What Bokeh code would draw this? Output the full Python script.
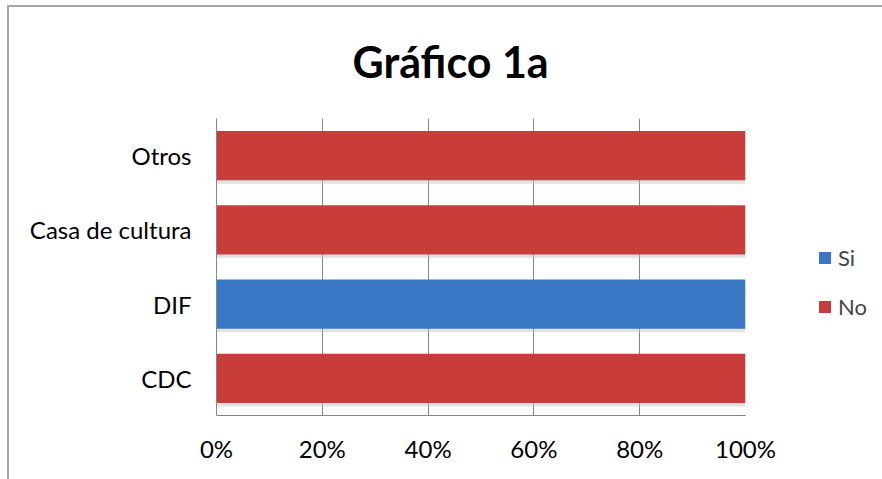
from bokeh.plotting import figure
from bokeh.models import ColumnDataSource, Legend, LegendItem, NumeralTickFormatter, FixedTicker, InlineStyleSheet, Range1d
from bokeh.transform import dodge
from bokeh.embed import file_html
from bokeh.resources import INLINE

categories = ["CDC", "DIF", "Casa de cultura", "Otros"]
si = [0.0, 1.0, 0.0, 0.0]
no = [1.0, 0.0, 1.0, 1.0]
tick_values = [0, 0.2, 0.4, 0.6, 0.8, 1.0]
series = ["si", "no"]
series_labels = ["Si", "No"]
colors = ["#3A78C6", "#C83D3A"]

total = [a + b for a, b in zip(si, no)]
source = ColumnDataSource(dict(cat=categories, si=si, no=no, total=total))

p = figure(y_range=categories, x_range=Range1d(0, 1),
           frame_width=529, frame_height=297,
           min_border_left=216, min_border_right=137,
           min_border_top=118, min_border_bottom=56,
           output_backend="svg", toolbar_location=None,
           title="Gráfico 1a")

# soft shadow under the bars
p.hbar(y=dodge("cat", -0.05, range=p.y_range), left=0, right="total", height=0.66,
       source=source, fill_color="#bfbfbf", fill_alpha=0.45, line_color=None)

renderers = p.hbar_stack(series, y="cat", height=0.66, color=colors,
                         line_color=None, source=source)

p.title.text_font = "Lato"
p.title.text_font_size = "43px"
p.title.text_font_style = "bold"
p.title.text_color = "black"
p.title.align = "left"
p.title.offset = 136
p.title.standoff = 64

p.xaxis.ticker = FixedTicker(ticks=tick_values)
p.xaxis.formatter = NumeralTickFormatter(format="0%")
for ax in (p.xaxis, p.yaxis):
    ax.axis_line_color = "#868686"
    ax.axis_line_width = 1
    ax.major_tick_line_color = None
    ax.minor_tick_line_color = None
    ax.major_label_text_font = "Lato"
    ax.major_label_text_font_size = "24px"
    ax.major_label_text_color = "black"
p.xaxis.major_label_standoff = 12
p.yaxis.major_label_standoff = 19

p.xgrid.grid_line_color = "#868686"
p.xgrid.grid_line_width = 1
p.ygrid.grid_line_color = None
p.outline_line_color = None

legend = Legend(items=[LegendItem(label=lab, renderers=[r]) for lab, r in zip(series_labels, renderers)],
                location=(72, 95), padding=0, margin=0, border_line_color=None,
                glyph_width=15, glyph_height=15, label_height=20, spacing=22,
                label_text_font="Lato", label_text_font_size="22px", label_standoff=6,
                background_fill_alpha=0)
p.add_layout(legend, "right")

p.stylesheets = [InlineStyleSheet(css=":host { position: relative; } :host::after { content: ''; position: absolute; left: 7px; top: 5px; right: -10px; bottom: -80px; border: 2px solid #a6a6a6; pointer-events: none; }")]

open("out.html", "w").write(file_html(p, INLINE))
